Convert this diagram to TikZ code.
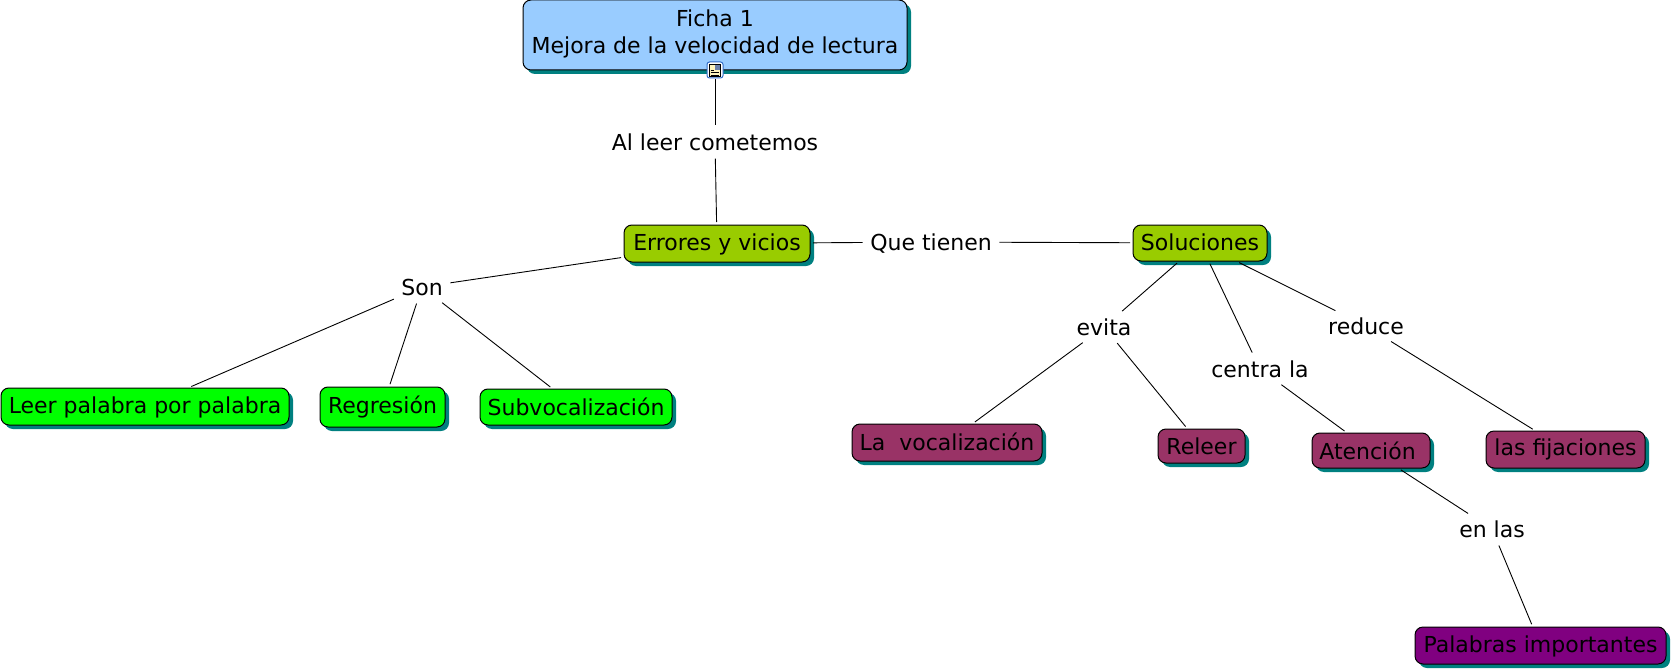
\documentclass[tikz,border=0pt]{standalone}
\usepackage{fontspec}
\setmainfont{DejaVu Sans}
\usetikzlibrary{shadows}
\definecolor{cblue}{RGB}{153,204,255}
\definecolor{colive}{RGB}{153,204,0}
\definecolor{cgreen}{RGB}{0,255,0}
\definecolor{cmaroon}{RGB}{153,51,102}
\definecolor{cpurple}{RGB}{128,0,128}
\definecolor{cshadow}{RGB}{0,128,128}
\definecolor{ciconb}{RGB}{50,110,200}
\definecolor{ciconp}{RGB}{255,245,190}
\definecolor{cicona}{RGB}{110,130,170}
\tikzset{
 every node/.style={font=\fontsize{22}{27}\selectfont, text=black},
 box/.style={draw=black, line width=1pt, rounded corners=8pt, align=center, inner sep=0pt,
   general shadow={fill=cshadow, shadow xshift=4pt, shadow yshift=-4pt}},
 one/.style={text height=#1, text depth=4pt},
 lab/.style={inner xsep=5pt, inner ysep=0pt, minimum height=28pt, text height=21.5pt, text depth=4pt},
 conn/.style={draw=black, line width=0.9pt, shorten <=2.5pt, shorten >=2.5pt}
}
\begin{document}
\begin{tikzpicture}[x=1pt,y=-1pt]
\useasboundingbox (0,0) rectangle (1672,671);
% concepts
\node[box,text depth=7pt,fill=cblue,minimum width=384pt,minimum height=70pt] (ficha) at (715,35) {Ficha 1\\[0pt]Mejora de la velocidad de lectura};
\node[box,one=17.5pt,fill=colive,minimum width=186pt,minimum height=37pt] (err) at (717,243.5) {Errores y vicios};
\node[box,one=19.5pt,fill=colive,minimum width=134pt,minimum height=36pt] (sol) at (1200,243) {Soluciones};
\node[box,one=17.5pt,fill=cgreen,minimum width=288pt,minimum height=37pt] (leer) at (145,406.5) {Leer palabra por palabra};
\node[box,one=17.5pt,fill=cgreen,minimum width=125pt,minimum height=40pt] (reg) at (382.5,407) {Regresión};
\node[box,one=21.5pt,fill=cgreen,minimum width=192pt,minimum height=36pt] (sub) at (576,407) {Subvocalización};
\node[box,one=19.5pt,fill=cmaroon,minimum width=190pt,minimum height=37pt] (voc) at (947,442.5) {La\ \ vocalización};
\node[box,one=21.5pt,fill=cmaroon,minimum width=87pt,minimum height=34pt] (rel) at (1201.5,446) {Releer};
\node[box,one=21.5pt,fill=cmaroon,minimum width=118pt,minimum height=35pt] (ate) at (1371,450.5) {Atención\ };
\node[box,one=15.5pt,fill=cmaroon,minimum width=159pt,minimum height=37pt] (fij) at (1565.5,449.5) {las fijaciones};
\node[box,one=17.5pt,fill=cpurple,minimum width=251pt,minimum height=37pt] (pal) at (1540.5,645.5) {Palabras importantes};
% linking phrases
\node[lab] (al) at (715,142) {Al leer cometemos};
\node[lab] (que) at (931,242) {Que tienen};
\node[lab] (son) at (422,287) {Son};
\node[lab] (evi) at (1104,327) {evita};
\node[lab] (cen) at (1260,369) {centra la};
\node[lab] (red) at (1366,326) {reduce};
\node[lab] (enl) at (1492,529) {en las};
% note icon
\node[draw=ciconb, fill=white, line width=1pt, rounded corners=2.5pt, minimum size=16pt, inner sep=0pt] (icon) at (715,70) {};
\node[draw=black, fill=ciconp, line width=0.6pt, minimum width=11pt, minimum height=12pt, inner sep=0pt] (page) at (icon.center) {};
\node[fill=cicona, minimum size=5pt, inner sep=0pt] (pic) at (717.5,67.5) {};
\draw[line width=0.8pt] (page.west) ++(1.5,0) -- ++(3.5,0) ++(-3.5,2.5) -- ++(8,0) ++(-8,2.5) -- ++(8,0);
% connectors
\draw[conn,shorten <=0.5pt] (icon) -- (al);
\draw[conn] (al) -- (err);
\draw[conn] (err) -- (son);
\draw[conn] (son) -- (leer);
\draw[conn] (son) -- (reg);
\draw[conn] (son) -- (sub);
\draw[conn] (err) -- (que);
\draw[conn] (que) -- (sol);
\draw[conn] (sol) -- (evi);
\draw[conn] (sol) -- (cen);
\draw[conn] (sol) -- (red);
\draw[conn] (evi) -- (voc);
\draw[conn] (evi) -- (rel);
\draw[conn] (cen) -- (ate);
\draw[conn] (red) -- (fij);
\draw[conn] (ate) -- (enl);
\draw[conn] (enl) -- (pal);
\end{tikzpicture}
\end{document}
